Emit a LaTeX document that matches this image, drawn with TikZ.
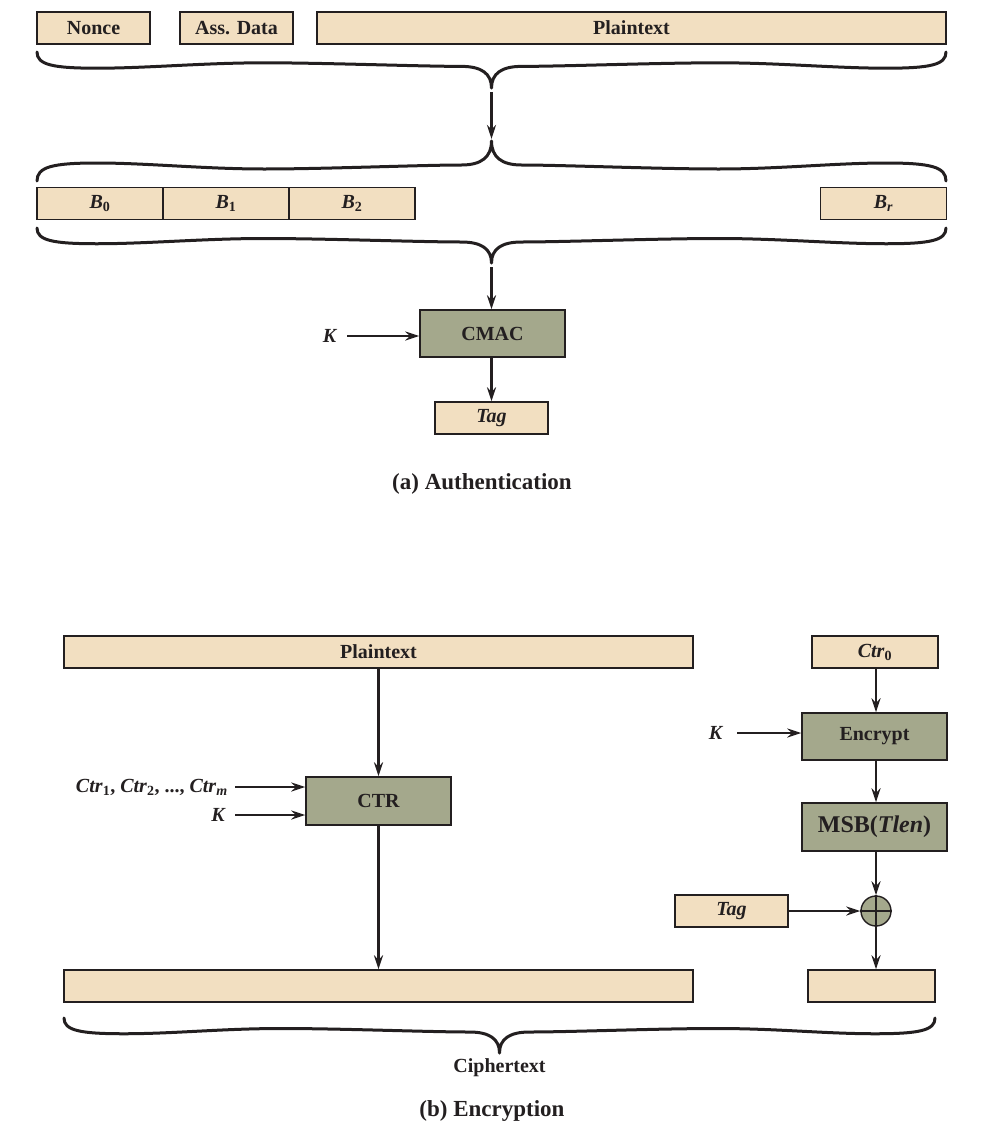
\documentclass[tikz,border=0pt]{standalone}
\usepackage{fontspec}
\setmainfont{Liberation Serif}
\usetikzlibrary{arrows.meta}

\definecolor{boxbeige}{RGB}{242,223,193}
\definecolor{boxgreen}{RGB}{164,168,140}
\definecolor{inkline}{RGB}{35,31,32}

\tikzset{
  lbl/.style={font=\fontsize{20}{24}\selectfont\bfseries, text=inkline, inner sep=0pt},
  caption/.style={font=\fontsize{23}{27}\selectfont\bfseries, text=inkline, inner sep=0pt},
  databox/.style={lbl, draw=inkline, fill=boxbeige, line width=1.4pt, minimum height=32pt},
  procbox/.style={lbl, draw=inkline, fill=boxgreen, line width=1.4pt, minimum height=47pt, minimum width=145pt},
  xorcirc/.style={draw=inkline, fill=boxgreen, line width=1.4pt, circle, minimum size=30pt, inner sep=0pt},
  arr/.style={draw=inkline, line width=2.4pt, -{Stealth[length=14pt,width=9pt]}},
  bracepath/.style={draw=inkline, line width=3pt, line cap=round, line join=round},
}

% curly brace: #1 name of the tip, #2 left x, #3 right x, #4 y of the ends, #5 y of the tip
\newcommand\curlybrace[5]{%
  \pgfmathsetmacro\brXm{(#2+#3)/2}%
  \pgfmathsetmacro\brD{#5-#4}%
  \pgfmathsetmacro\brA{#4+0.45*\brD}%
  \pgfmathsetmacro\brB{#4+0.30*\brD}%
  \pgfmathsetmacro\brC{#4+0.40*\brD}%
  \pgfmathsetmacro\brQa{(#2+\brXm)/2}%
  \pgfmathsetmacro\brQb{(#3+\brXm)/2}%
  \draw[bracepath] (#2,#4)
    .. controls (#2,{#4+0.35*\brD}) and ({#2+15},\brA) .. ({#2+60},\brA)
    .. controls ({#2+110},\brA) and ({\brQa-60},\brB) .. (\brQa,\brB)
    .. controls ({\brQa+60},\brB) and ({\brXm-70},\brC) .. ({\brXm-30},\brC)
    .. controls ({\brXm-10},\brC) and (\brXm,{#4+0.6*\brD}) .. (\brXm,#5)
    .. controls (\brXm,{#4+0.6*\brD}) and ({\brXm+10},\brC) .. ({\brXm+30},\brC)
    .. controls ({\brXm+70},\brC) and ({\brQb-60},\brB) .. (\brQb,\brB)
    .. controls ({\brQb+60},\brB) and ({#3-110},\brA) .. ({#3-60},\brA)
    .. controls ({#3-15},\brA) and (#3,{#4+0.35*\brD}) .. (#3,#4);
  \coordinate (#1) at (\brXm,#5);
}

\begin{document}
\begin{tikzpicture}[x=1pt,y=-1pt]
\useasboundingbox (0,0) rectangle (1000,1130);

% ---------- (a) Authentication ----------
\node[databox, minimum width=113pt] (nonce) at (93.5,28) {Nonce};
\node[databox, minimum width=113pt] (assdata) at (236.5,28) {Ass. Data};
\node[databox, minimum width=629pt] (ptop) at (631.5,28) {Plaintext};

\curlybrace{brA}{37}{946}{52}{88}
\curlybrace{brB}{37}{946}{181}{141}

\node[databox, minimum width=126pt] (b0) at (100,203.5) {\textit{B}\textsubscript{0}};
\node[databox, minimum width=126pt] (b1) at (226,203.5) {\textit{B}\textsubscript{1}};
\node[databox, minimum width=126pt] (b2) at (352,203.5) {\textit{B}\textsubscript{2}};
\node[databox, minimum width=126pt] (br) at (883.5,203.5) {\textit{B}\textsubscript{\textit{r}}};

\curlybrace{brC}{37}{946}{228}{263}

\node[procbox] (cmac) at (492.5,333.5) {CMAC};
\node[lbl] (ka) at (330,336) {\textit{K}};
\node[databox, minimum width=113pt] (taga) at (491.5,418) {\textit{Tag}};

\draw[arr, shorten <=4pt, shorten >=2pt] (brA) -- (brB);
\draw[arr, shorten <=4pt] (brC) -- (brC |- cmac.north);
\draw[arr, shorten <=10pt] (ka.east) -- (ka.east -| cmac.west);
\draw[arr] (cmac.south -| taga.north) -- (taga.north);

\node[caption] (capa) at (482,484) {(a) Authentication};

% ---------- (b) Encryption ----------
\node[databox, minimum width=629pt] (pb) at (378.5,652) {Plaintext};
\node[databox, minimum width=126pt] (ctr0) at (875,652) {\textit{Ctr}\textsubscript{0}};

\node[procbox, minimum height=48pt] (ctr) at (378.5,801) {CTR};
\node[lbl, anchor=east] (ctrs) at (228,787) {\textit{Ctr}\textsubscript{1}, \textit{Ctr}\textsubscript{2}, ..., \textit{Ctr}\textsubscript{\textit{m}}};
\node[lbl, anchor=east] (kb) at (226,815) {\textit{K}};

\node[procbox] (enc) at (874.5,736.5) {Encrypt};
\node[lbl] (kc) at (716,733) {\textit{K}};
\node[procbox, minimum height=48pt, font=\fontsize{24}{28}\selectfont\bfseries] (msb) at (874.5,827) {MSB(\textit{Tlen})};
\node[xorcirc] (xor) at (876,911) {};
\node[databox, minimum width=113pt] (tagb) at (731.5,911) {\textit{Tag}};

\node[databox, minimum width=629pt] (cout) at (378.5,986) {};
\node[databox, minimum width=127pt] (cend) at (871.5,986) {};

\draw[arr] (pb) -- (ctr);
\draw[arr] (ctr) -- (cout);
\draw[arr, shorten <=7pt] (ctrs.east) -- (ctrs.east -| ctr.west);
\draw[arr, shorten <=9pt] (kb.east) -- (kb.east -| ctr.west);
\draw[arr] (ctr0.south -| xor) -- (enc.north -| xor);
\draw[arr, shorten <=14pt] (kc.east) -- (kc.east -| enc.west);
\draw[arr] (enc.south -| xor) -- (msb.north -| xor);
\draw[arr] (msb.south -| xor) -- (xor.north);
\draw[arr] (tagb.east) -- (xor.west);
\draw[arr] (xor.south) -- (xor.south |- cend.north);
\draw[draw=inkline, line width=1.4pt] (xor.north) -- (xor.south) (xor.west) -- (xor.east);

\curlybrace{brD}{64}{935}{1018}{1053}
\node[lbl, anchor=north] (ctext) at ([yshift=-5pt]brD) {Ciphertext};

\node[caption] (capb) at (492,1111) {(b) Encryption};
\end{tikzpicture}
\end{document}
